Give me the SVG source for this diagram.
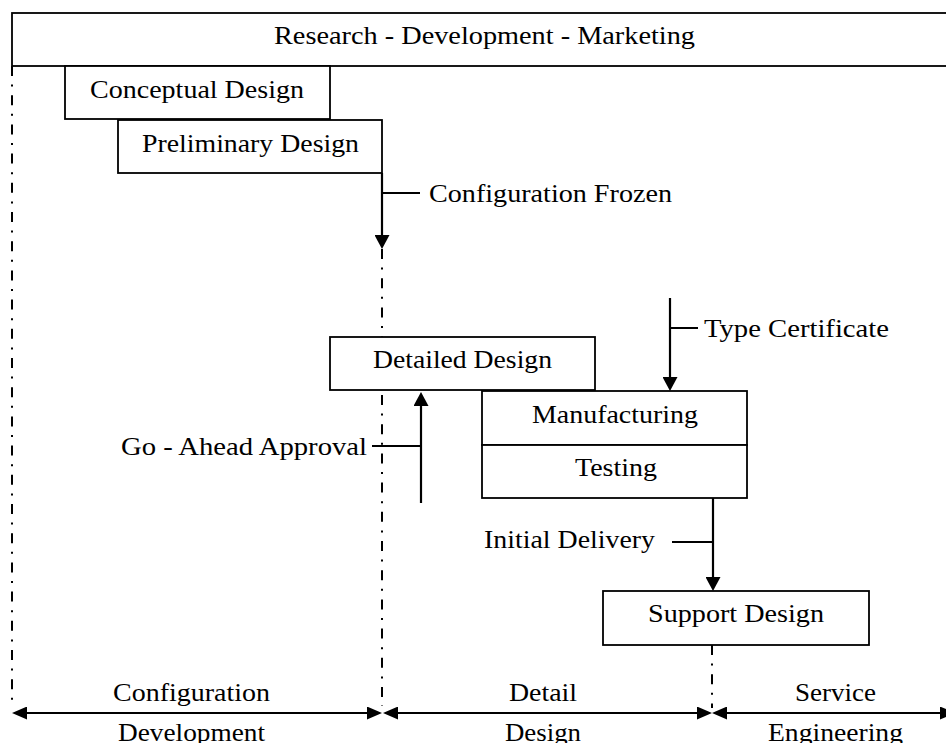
<svg xmlns="http://www.w3.org/2000/svg" width="946" height="743" viewBox="0 0 946 743">
  <style>
    .box { fill: #ffffff; stroke: #000000; stroke-width: 1.8; }
    .lbl { font-family: "Liberation Serif", "Times New Roman", serif; font-size: 25px; fill: #000000; }
    .arrow { fill: none; stroke: #000000; stroke-width: 2.2; }
    .tick { fill: none; stroke: #000000; stroke-width: 2; }
    .phase { fill: none; stroke: #000000; stroke-width: 2; stroke-dasharray: 10 8.6 2 8.6; }
  </style>
  <defs>
    <marker id="head" viewBox="0 0 14 15" refX="9" refY="7.5" markerWidth="14" markerHeight="15" markerUnits="userSpaceOnUse" orient="auto-start-reverse">
      <path d="M0,0 L14,7.5 L0,15 z" fill="#000000"/>
    </marker>
    <marker id="span" viewBox="0 0 15 13" refX="10" refY="6.5" markerWidth="15" markerHeight="13" markerUnits="userSpaceOnUse" orient="auto-start-reverse">
      <path d="M0,0 L15,6.5 L0,13 z" fill="#000000"/>
    </marker>
  </defs>

  <rect width="946" height="743" fill="#ffffff"/>

  <!-- phase boundaries and milestone arrows -->
  <g id="connectors">
    <line class="phase" x1="12" y1="66" x2="12" y2="705"/>
    <line class="phase" x1="382" y1="249" x2="382" y2="706"/>
    <line class="phase" x1="712" y1="645" x2="712" y2="708"/>

    <line class="arrow" x1="382" y1="173" x2="382" y2="244" marker-end="url(#head)"/>
    <line class="tick" x1="382" y1="193" x2="420" y2="193"/>

    <line class="arrow" x1="670" y1="298" x2="670" y2="386" marker-end="url(#head)"/>
    <line class="tick" x1="670" y1="328" x2="698" y2="328"/>

    <line class="arrow" x1="421" y1="503" x2="421" y2="397" marker-end="url(#head)"/>
    <line class="tick" x1="372" y1="446" x2="421" y2="446"/>

    <line class="arrow" x1="713" y1="498" x2="713" y2="586" marker-end="url(#head)"/>
    <line class="tick" x1="672" y1="542" x2="713" y2="542"/>

    <line class="arrow" x1="17" y1="713" x2="377" y2="713" marker-start="url(#span)" marker-end="url(#span)"/>
    <line class="arrow" x1="388" y1="713" x2="707" y2="713" marker-start="url(#span)" marker-end="url(#span)"/>
    <line class="arrow" x1="717" y1="713" x2="950" y2="713" marker-start="url(#span)" marker-end="url(#span)"/>
  </g>

  <g id="research-development-marketing">
    <rect class="box" x="12" y="13" width="945" height="53"/>
    <text class="lbl" x="274" y="44" textLength="421" lengthAdjust="spacingAndGlyphs">Research - Development - Marketing</text>
  </g>

  <g id="conceptual-design">
    <rect class="box" x="65" y="66" width="265" height="53"/>
    <text class="lbl" x="90" y="97.5" textLength="214" lengthAdjust="spacingAndGlyphs">Conceptual Design</text>
  </g>

  <g id="preliminary-design">
    <rect class="box" x="118" y="120" width="264" height="53"/>
    <text class="lbl" x="142" y="152" textLength="217" lengthAdjust="spacingAndGlyphs">Preliminary Design</text>
  </g>

  <g id="configuration-frozen">
    <text class="lbl" x="429" y="201.5" textLength="243" lengthAdjust="spacingAndGlyphs">Configuration Frozen</text>
  </g>

  <g id="detailed-design">
    <rect class="box" x="330" y="337" width="265" height="53"/>
    <text class="lbl" x="373" y="368" textLength="179" lengthAdjust="spacingAndGlyphs">Detailed Design</text>
  </g>

  <g id="type-certificate">
    <text class="lbl" x="704" y="337" textLength="185" lengthAdjust="spacingAndGlyphs">Type Certificate</text>
  </g>

  <g id="manufacturing">
    <rect class="box" x="482" y="391" width="265" height="54"/>
    <text class="lbl" x="532" y="422.5" textLength="166" lengthAdjust="spacingAndGlyphs">Manufacturing</text>
  </g>

  <g id="testing">
    <rect class="box" x="482" y="445" width="265" height="53"/>
    <text class="lbl" x="575" y="476" textLength="82" lengthAdjust="spacingAndGlyphs">Testing</text>
  </g>

  <g id="go-ahead-approval">
    <text class="lbl" x="121" y="455" textLength="246" lengthAdjust="spacingAndGlyphs">Go - Ahead Approval</text>
  </g>

  <g id="initial-delivery">
    <text class="lbl" x="484" y="548" textLength="171" lengthAdjust="spacingAndGlyphs">Initial Delivery</text>
  </g>

  <g id="support-design">
    <rect class="box" x="603" y="591" width="266" height="54"/>
    <text class="lbl" x="648" y="622" textLength="176" lengthAdjust="spacingAndGlyphs">Support Design</text>
  </g>

  <g id="phase-configuration-development">
    <text class="lbl" x="113" y="701" textLength="157" lengthAdjust="spacingAndGlyphs">Configuration</text>
    <text class="lbl" x="118" y="741" textLength="147" lengthAdjust="spacingAndGlyphs">Development</text>
  </g>

  <g id="phase-detail-design">
    <text class="lbl" x="509" y="701" textLength="68" lengthAdjust="spacingAndGlyphs">Detail</text>
    <text class="lbl" x="505" y="741" textLength="76" lengthAdjust="spacingAndGlyphs">Design</text>
  </g>

  <g id="phase-service-engineering">
    <text class="lbl" x="795" y="701" textLength="81" lengthAdjust="spacingAndGlyphs">Service</text>
    <text class="lbl" x="768" y="741" textLength="135" lengthAdjust="spacingAndGlyphs">Engineering</text>
  </g>
</svg>
